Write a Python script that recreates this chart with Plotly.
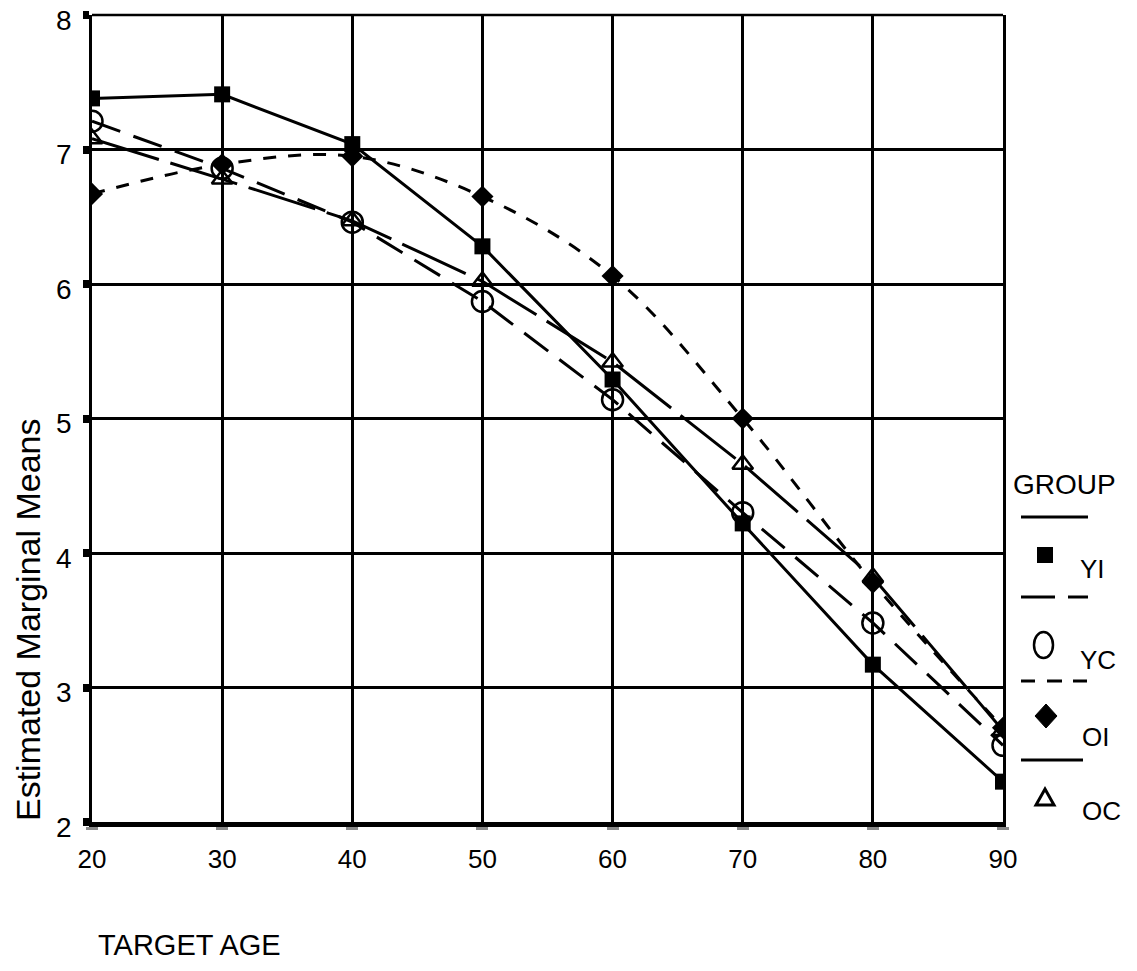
import plotly.graph_objects as go

# ---- data ----
ages = [20, 30, 40, 50, 60, 70, 80, 90]
yi = [7.38, 7.41, 7.04, 6.28, 5.29, 4.22, 3.17, 2.30]
yc = [7.21, 6.86, 6.46, 5.87, 5.14, 4.30, 3.48, 2.57]
oi = [6.67, 6.89, 6.95, 6.65, 6.06, 5.00, 3.78, 2.70]
oc = [7.08, 6.78, 6.47, 6.02, 5.42, 4.66, 3.82, 2.68]
y_ticks = [2, 3, 4, 5, 6, 7, 8]
group_names = ["YI", "YC", "OI", "OC"]

OFF = 8  # page body margin
W, H = 1137 - 2 * OFF, 971 - 2 * OFF
L, T = 92 - OFF, 15 - OFF
R = W - (1003 - OFF)
B = H - (822 - OFF)
PW, PH = W - L - R, H - T - B

SANS = "Liberation Sans, Arial, sans-serif"


def px(x):
    return (x - OFF - L) / PW


def py(y):
    return (H - B - (y - OFF)) / PH


fig = go.Figure()

fig.add_trace(go.Scatter(x=ages, y=yc, mode="lines+markers", name=group_names[1],
                         line=dict(color="black", width=3, dash="30px,14px"),
                         marker=dict(symbol="circle-open", size=21, color="black",
                                     line=dict(width=2.5, color="black"))))
fig.add_trace(go.Scatter(x=ages, y=oc, mode="lines+markers", name=group_names[3],
                         line=dict(color="black", width=3, dash="70px,12px"),
                         marker=dict(symbol="triangle-up-open", size=18, color="black",
                                     line=dict(width=2.5, color="black"))))
fig.add_trace(go.Scatter(x=ages, y=yi, mode="lines+markers", name=group_names[0],
                         line=dict(color="black", width=3),
                         marker=dict(symbol="square", size=16, color="black")))
fig.add_trace(go.Scatter(x=ages, y=oi, mode="lines+markers", name=group_names[2],
                         line=dict(color="black", width=3, dash="13px,12px",
                                   shape="spline", smoothing=1),
                         marker=dict(symbol="diamond", size=17, color="black")))

fig.update_xaxes(range=[20, 90], tickvals=ages, ticktext=[str(a) for a in ages],
                 showgrid=True, gridcolor="black", gridwidth=2.5,
                 showline=True, linecolor="black", linewidth=5,
                 ticks="outside", ticklen=3, tickwidth=12, tickcolor="#8a8a8a",
                 ticklabelstandoff=7, ticklabeloverflow="allow", automargin=False,
                 tickfont=dict(family=SANS, size=26, color="black"),
                 zeroline=False)
fig.update_yaxes(range=[2, 8], tickvals=y_ticks, ticktext=[str(v) for v in y_ticks],
                 showgrid=True, gridcolor="black", gridwidth=2.5,
                 showline=True, linecolor="black", linewidth=2.5, mirror=True,
                 ticks="outside", ticklen=6, tickwidth=8, tickcolor="black",
                 ticklabelstandoff=6, ticklabelshift=5,
                 ticklabeloverflow="allow", automargin=False,
                 tickfont=dict(family=SANS, size=28, color="black"),
                 zeroline=False)

shapes = []
# top border
shapes.append(dict(type="line", xref="paper", yref="paper", x0=0, x1=1, y0=1, y1=1,
                   line=dict(color="black", width=2.5)))


def seg(x0, x1, y, w=3):
    return dict(type="line", xref="paper", yref="paper", x0=px(x0), x1=px(x1),
                y0=py(y), y1=py(y), line=dict(color="black", width=w))


# legend lines
shapes.append(seg(1021, 1088, 517))
shapes.append(seg(1021, 1055, 597))
shapes.append(seg(1068, 1088, 597))
for a, b in [(1021, 1035), (1047, 1062), (1073, 1087)]:
    shapes.append(seg(a, b, 681))
shapes.append(seg(1021, 1083, 760))
# legend markers
shapes.append(dict(type="rect", xref="paper", yref="paper",
                   x0=px(1037), x1=px(1053), y0=py(563), y1=py(547),
                   fillcolor="black", line=dict(width=0)))
shapes.append(dict(type="circle", xref="paper", yref="paper",
                   x0=px(1034), x1=px(1053), y0=py(658), y1=py(632),
                   line=dict(color="black", width=2.5)))
shapes.append(dict(type="path", xref="paper", yref="paper",
                   path=f"M {px(1046)} {py(704)} L {px(1057)} {py(716)} L {px(1046)} {py(728)} L {px(1035)} {py(716)} Z",
                   fillcolor="black", line=dict(color="black", width=1)))
shapes.append(dict(type="path", xref="paper", yref="paper",
                   path=f"M {px(1045)} {py(789)} L {px(1054)} {py(805)} L {px(1036)} {py(805)} Z",
                   line=dict(color="black", width=3)))

annotations = []


def txt(s, x, y, size, anchor="left", angle=0):
    return dict(text=s, xref="paper", yref="paper", x=px(x), y=py(y), showarrow=False,
                xanchor=anchor, yanchor="middle", textangle=angle,
                font=dict(family=SANS, size=size, color="black"))


annotations.append(txt("GROUP", 1011, 484, 28))
annotations.append(txt(group_names[0], 1078, 569, 26))
annotations.append(txt(group_names[1], 1078, 660, 26))
annotations.append(txt(group_names[2], 1080, 737, 26))
annotations.append(txt(group_names[3], 1080, 811, 26))
annotations.append(txt("TARGET AGE", 96, 945, 29))
annotations.append(txt("Estimated Marginal Means", 28, 620, 34, anchor="center", angle=-90))

fig.update_layout(width=W, height=H, autosize=False,
                  margin=dict(l=L, r=R, t=T, b=B),
                  paper_bgcolor="white", plot_bgcolor="white",
                  showlegend=False, shapes=shapes, annotations=annotations)

fig.write_html("out.html")
